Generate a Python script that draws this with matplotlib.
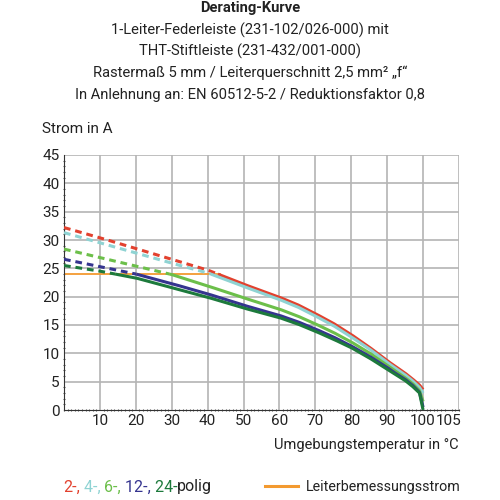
import matplotlib.pyplot as plt
import numpy as np
from matplotlib.offsetbox import TextArea, HPacker, AnnotationBbox
from matplotlib.ticker import MultipleLocator

plt.rcParams['font.family'] = ['Roboto', 'DejaVu Sans']

# temperatures (°C) and current (A)
temp = [0, 10, 20, 30, 40, 50, 60, 65, 70, 75, 80, 85, 90, 92, 95, 97, 99, 100]
pol2 = [32.2, 30.4, 28.5, 26.6, 24.7, 22.2, 19.9, 18.6, 17.0, 15.3, 13.3, 11.1, 8.7, 7.8, 6.5, 5.5, 4.4, 3.6]
pol4 = [31.3, 29.5, 27.7, 25.9, 24.2, 21.8, 19.5, 18.2, 16.6, 14.9, 12.9, 10.8, 8.4, 7.5, 6.2, 5.2, 4.0, 3.0]
pol6 = [28.4, 26.9, 25.4, 23.9, 21.9, 19.8, 17.8, 16.6, 15.2, 13.7, 12.0, 10.1, 7.9, 7.0, 5.7, 4.7, 3.4, 1.5]
pol12 = [26.6, 25.3, 24.0, 22.3, 20.5, 18.5, 16.7, 15.6, 14.3, 12.9, 11.3, 9.5, 7.5, 6.6, 5.4, 4.4, 3.1, 0.5]
pol24 = [25.5, 24.5, 23.3, 21.6, 19.9, 18.0, 16.3, 15.2, 13.9, 12.5, 11.0, 9.2, 7.2, 6.4, 5.2, 4.2, 3.0, 0.0]
rated_current = 24.0
rated_until = 43.5

series = [pol2, pol4, pol6, pol12, pol24]
colors = ['#e2412e', '#8fd3d3', '#6cbf4a', '#35348f', '#1d7a3c']
labels = ['2-,', ' 4-,', ' 6-,', ' 12-,', ' 24-']

fig = plt.figure(figsize=(5, 5), dpi=100)
ax = fig.add_axes([0.128, 0.18, 0.79, 0.51])

for x in range(10, 111, 10):
    ax.axvline(x, color='#b4b4b4', lw=1.2, zorder=0)
for y in range(5, 46, 5):
    ax.axhline(y, color='#b4b4b4', lw=1.2, zorder=0)

ax.plot([0, rated_until], [rated_current, rated_current], color='#f39a30', lw=1.3, zorder=2)

t_fine = np.linspace(0, 100, 801)
for vals, c in zip(series, colors):
    t = np.array(temp, dtype=float)
    v = np.array(vals, dtype=float)
    yy = np.interp(t_fine, t, v)
    above = yy >= rated_current
    idx = np.argmax(~above)
    ax.plot(t_fine[:idx + 1], yy[:idx + 1], color=c, lw=2.2, ls=(0, (2.2, 1.6)), zorder=3)
    ax.plot(t_fine[idx:], yy[idx:], color=c, lw=2.2, zorder=3, solid_capstyle='butt')

ax.set_xlim(0, 110)
ax.set_ylim(0, 45)
for s in ['top', 'right']:
    ax.spines[s].set_visible(False)
ax.spines['left'].set_color('#333333')
ax.spines['bottom'].set_color('#333333')
ax.set_xticks(list(range(10, 101, 10)) + [107])
ax.set_xticklabels([str(v) for v in range(10, 101, 10)] + ['105'])
ax.set_yticks(range(0, 46, 5))
ax.xaxis.set_minor_locator(MultipleLocator(1))
ax.yaxis.set_minor_locator(MultipleLocator(1))
ax.tick_params(which='major', length=0, labelsize=11, colors='#222222', pad=3)
ax.tick_params(which='minor', length=2, width=0.8, direction='inout', color='#555555')

fig.text(0.5, 0.984, 'Derating-Kurve', ha='center', va='center', fontsize=10.6,
         fontweight='bold', color='#222222')
sub = ['1-Leiter-Federleiste (231-102/026-000) mit',
       'THT-Stiftleiste (231-432/001-000)',
       'Rastermaß 5 mm / Leiterquerschnitt 2,5 mm² „f“',
       'In Anlehnung an: EN 60512-5-2 / Reduktionsfaktor 0,8']
for i, line in enumerate(sub):
    fig.text(0.5, 0.94 - i * 0.043, line, ha='center', va='center', fontsize=10.6, color='#222222')

fig.text(0.084, 0.742, 'Strom in A', ha='left', va='center', fontsize=11, color='#222222')
fig.text(0.918, 0.11, 'Umgebungstemperatur in °C', ha='right', va='center', fontsize=10.5,
         color='#222222')

parts = [TextArea(l, textprops=dict(color=c, fontsize=11.5)) for l, c in zip(labels, colors)]
parts.append(TextArea('polig', textprops=dict(color='#222222', fontsize=11.5)))
box = HPacker(children=parts, align='baseline', pad=0, sep=0)
ab = AnnotationBbox(box, (0.126, 0.026), xycoords='figure fraction', box_alignment=(0, 0.5),
                    frameon=False)
fig.add_artist(ab)

fig.add_artist(plt.Line2D([0.53, 0.596], [0.028, 0.028], color='#f39a30', lw=2.2,
                          transform=fig.transFigure))
fig.text(0.612, 0.026, 'Leiterbemessungsstrom', ha='left', va='center', fontsize=10.3,
         color='#222222')

fig.savefig('out.png', dpi=100)
